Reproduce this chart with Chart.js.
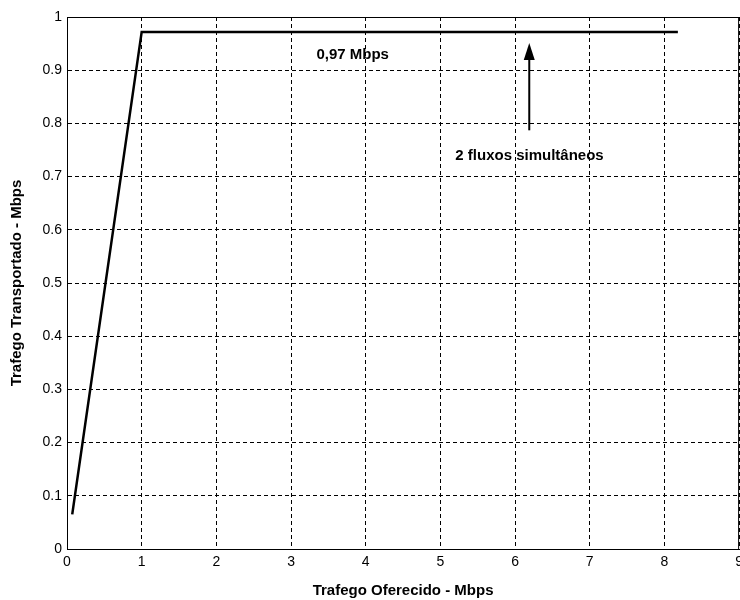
<!DOCTYPE html>
<html>
<head>
<meta charset="utf-8">
<script src="https://cdn.jsdelivr.net/npm/chart.js@4.4.1/dist/chart.umd.min.js"></script>
<style>
  html, body { margin: 0; padding: 0; overflow: hidden; background: #fff; width: 740px; height: 600px; }
  canvas { display: block; }
</style>
</head>
<body>
<canvas id="c" width="748" height="600"></canvas>
<script>
// ---- data ----
const offeredMbps = [0.07, 1.0, 8.18];
const carriedMbps = [0.065, 0.972, 0.972];
const xTickLabels = ['0','1','2','3','4','5','6','7','8','9'];
const yTickLabels = ['0','0.1','0.2','0.3','0.4','0.5','0.6','0.7','0.8','0.9','1'];
const xTitle = 'Trafego Oferecido - Mbps';
const yTitle = 'Trafego Transportado - Mbps';
const capLabel = '0,97 Mbps';
const capLabelPos = [3.34, 0.929];
const flowLabel = '2 fluxos simultâneos';
const flowLabelPos = [5.2, 0.739];
const arrowX = 6.19;
const arrowFromY = 0.787;
const arrowToY = 0.951;

const FONT = '"Liberation Sans", Arial, Helvetica, sans-serif';

const annotations = {
  id: 'annotations',
  afterDatasetsDraw(chart) {
    const {ctx, chartArea, scales: {x, y}} = chart;
    ctx.save();
    // box
    ctx.strokeStyle = '#000';
    ctx.lineWidth = 1;
    ctx.setLineDash([]);
    ctx.strokeRect(chartArea.left + 0.5, chartArea.top + 0.5, chartArea.width - 1, chartArea.height);
    // texts
    ctx.fillStyle = '#000';
    ctx.font = 'bold 15px ' + FONT;
    ctx.textAlign = 'left';
    ctx.textBaseline = 'middle';
    ctx.fillText(capLabel, x.getPixelForValue(capLabelPos[0]), y.getPixelForValue(capLabelPos[1]));
    ctx.fillText(flowLabel, x.getPixelForValue(flowLabelPos[0]), y.getPixelForValue(flowLabelPos[1]));
    // arrow
    const ax = x.getPixelForValue(arrowX);
    const y0 = y.getPixelForValue(arrowFromY);
    const y1 = y.getPixelForValue(arrowToY);
    ctx.lineWidth = 2;
    ctx.beginPath();
    ctx.moveTo(ax, y0);
    ctx.lineTo(ax, y1 + 14);
    ctx.stroke();
    ctx.beginPath();
    ctx.moveTo(ax, y1);
    ctx.lineTo(ax - 5.5, y1 + 17);
    ctx.lineTo(ax + 5.5, y1 + 17);
    ctx.closePath();
    ctx.fill();
    ctx.restore();
  }
};

new Chart(document.getElementById('c'), {
  type: 'scatter',
  data: {
    datasets: [{
      data: offeredMbps.map((v, i) => ({x: v, y: carriedMbps[i]})),
      showLine: true,
      borderColor: '#000',
      borderWidth: 2.5,
      pointRadius: 0,
      fill: false,
      tension: 0
    }]
  },
  options: {
    responsive: false,
    animation: false,
    events: [],
    layout: { padding: { top: 17, left: 0, right: 0, bottom: 0 } },
    plugins: { legend: { display: false }, tooltip: { enabled: false } },
    scales: {
      x: {
        type: 'linear', min: 0, max: 9,
        afterFit(s) { s.height = 51; },
        ticks: {
          stepSize: 1, color: '#000', padding: 5, maxRotation: 0,
          font: { family: FONT, size: 14 },
          callback: (v) => xTickLabels[Math.round(v)]
        },
        grid: { color: '#000', lineWidth: 1, drawTicks: false, tickLength: 0 },
        border: { display: true, color: '#000', width: 1, dash: [4, 3] },
        title: { display: true, text: xTitle, color: '#000', padding: { top: 11, bottom: 0 },
                 font: { family: FONT, size: 15, weight: 'bold' } }
      },
      y: {
        type: 'linear', min: 0, max: 1,
        afterFit(s) { s.width = 67; },
        ticks: {
          stepSize: 0.1, color: '#000', padding: 5,
          font: { family: FONT, size: 14 },
          callback: (v) => yTickLabels[Math.round(v * 10)]
        },
        grid: { color: '#000', lineWidth: 1, drawTicks: false, tickLength: 0 },
        border: { display: true, color: '#000', width: 1, dash: [4, 3] },
        title: { display: true, text: yTitle, color: '#000', padding: { top: 8, bottom: 0 },
                 font: { family: FONT, size: 15, weight: 'bold' } }
      }
    }
  },
  plugins: [annotations]
});
</script>
</body>
</html>
